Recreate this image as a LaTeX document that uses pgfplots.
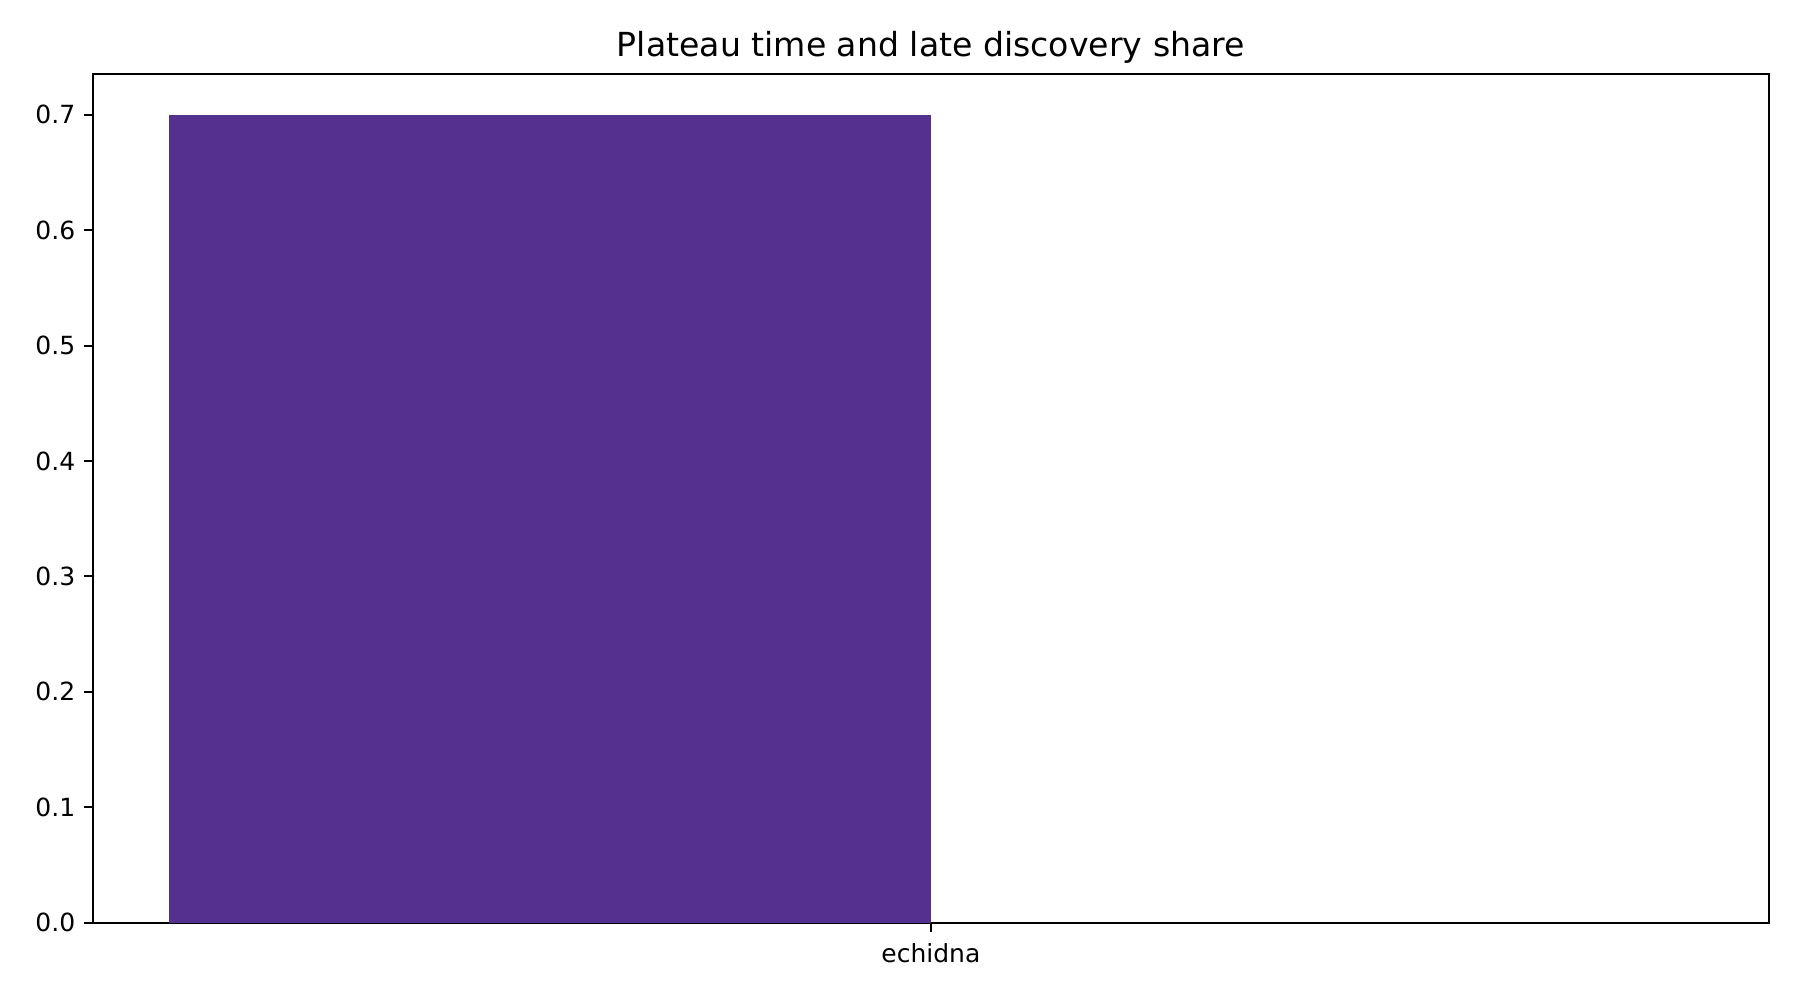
\documentclass[border=0pt]{standalone}
\usepackage{fontspec}
\setmainfont{DejaVu Sans}
\usepackage{pgfplots}
\pgfplotsset{compat=1.18}
\definecolor{barpurple}{HTML}{56308F}

\begin{document}
\begin{tikzpicture}
  \begin{axis}[
      scale only axis,
      width=670.5bp, height=339.4bp,
      xmin=-0.44, xmax=0.44,
      ymin=0, ymax=0.735,
      xtick={0}, xticklabels={echidna},
      ytick={0,0.1,...,0.7},
      yticklabel style={/pgf/number format/fixed, /pgf/number format/fixed zerofill, /pgf/number format/precision=1},
      xticklabel style={yshift=-1.3bp},
      /pgf/number format/assume math mode=true,
      tick align=outside, tick pos=left,
      major tick length=3.5bp,
      tick style={black, line width=0.8bp},
      axis line style={line width=0.8bp},
      ticklabel style={font=\fontsize{10.04}{12}\selectfont},
      title={Plateau time and late discovery share},
      title style={font=\fontsize{13.3}{15}\selectfont, at={(0.5,1)}, anchor=south, yshift=-5pt},
    ]
    \addplot[fill=barpurple, draw=none, ybar interval] coordinates {(-0.4,0.7) (0,0.7)};
  \end{axis}
  \path ([xshift=-37.1bp,yshift=-30.9bp]current axis.south west) rectangle ([xshift=12.4bp,yshift=29.7bp]current axis.north east);
\end{tikzpicture}
\end{document}
